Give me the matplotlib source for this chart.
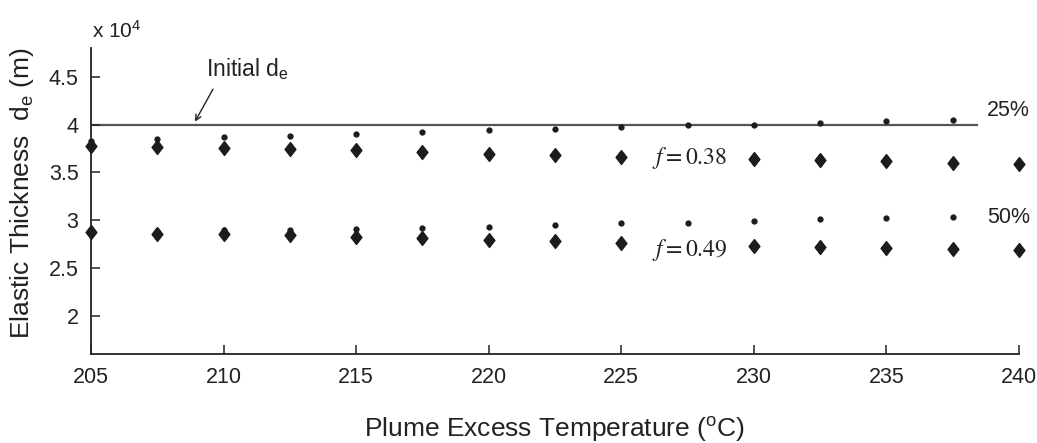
import numpy as np
import matplotlib
matplotlib.use('Agg')
from matplotlib import pyplot as plt
from matplotlib.ticker import FuncFormatter

plt.rcParams['font.family'] = ['Liberation Sans', 'DejaVu Sans']
plt.rcParams['mathtext.fontset'] = 'stix'

# plume excess temperature (C)
temp = [205, 207.5, 210, 212.5, 215, 217.5, 220, 222.5, 225, 227.5,
        230, 232.5, 235, 237.5, 240]

# elastic thickness in units of 1e4 m
# 25% series: f = 0.38 (diamonds) and small dots
de25_f = [3.78, 3.765, 3.75, 3.74, 3.73, 3.71, 3.695, 3.685, 3.66, np.nan,
          3.635, 3.625, 3.615, 3.60, 3.59]
de25_dot = [3.83, 3.85, 3.868, 3.885, 3.90, 3.92, 3.94, 3.95, 3.97, 3.99,
            4.00, 4.02, 4.04, 4.05, np.nan]
# 50% series: f = 0.49
de50_f = [2.878, 2.86, 2.85, 2.844, 2.826, 2.81, 2.79, 2.778, 2.765, np.nan,
          2.73, 2.72, 2.705, 2.70, 2.69]
de50_dot = [2.88, 2.885, 2.895, 2.90, 2.906, 2.913, 2.93, 2.948, 2.965, 2.975,
            2.986, 3.007, 3.024, 3.035, np.nan]

de_initial = 4.0
init_range = [205, 238.4]

fig = plt.figure(figsize=(10.37, 4.43), dpi=100)
ax = fig.add_axes([0.0878, 0.2009, 0.8948, 0.6907])

diamond = [(0, 1), (0.78, 0), (0, -1), (-0.78, 0), (0, 1)]
ink = '#1c1c1c'
txt = '#222222'

ax.plot(init_range, [de_initial, de_initial], color='#555555', lw=1.6, zorder=1)
ax.plot(temp, de25_dot, 'o', color=ink, ms=3.5, zorder=2, clip_on=False)
ax.plot(temp, de50_dot, 'o', color=ink, ms=3.5, zorder=2, clip_on=False)
ax.plot(temp, de25_f, ls='none', marker=diamond, color=ink, ms=10, zorder=3, clip_on=False)
ax.plot(temp, de50_f, ls='none', marker=diamond, color=ink, ms=10, zorder=3, clip_on=False)

ax.set_xlim(205, 240)
ax.set_ylim(1.6, 4.8)
ax.set_xticks(np.arange(205, 241, 5))
ax.set_yticks([2, 2.5, 3, 3.5, 4, 4.5])
ax.yaxis.set_major_formatter(FuncFormatter(lambda v, p: '%g' % v))

for s in ['top', 'right']:
    ax.spines[s].set_visible(False)
for s in ['left', 'bottom']:
    ax.spines[s].set_linewidth(1.3)
    ax.spines[s].set_color(txt)
ax.tick_params(direction='in', length=6.5, width=1.1, labelsize=15.5, colors=txt, pad=9)

ax.set_xlabel('Plume Excess Temperature ($\\mathregular{^{o}}$C)', fontsize=19, color=txt)
ax.xaxis.set_label_coords(0.5, -0.198)
ax.set_ylabel('Elastic Thickness  d$\\mathregular{_e}$ (m)', fontsize=19, color=txt)
ax.yaxis.set_label_coords(-0.059, 0.526)

ax.text(205.05, 4.86, 'x 10$\\mathregular{^4}$', fontsize=15, color=txt,
        ha='left', va='bottom')

ax.text(209.35, 4.58, 'Initial d$\\mathregular{_e}$', fontsize=16.5, color=txt,
        ha='left', va='center')
ax.annotate('', xy=(208.92, 4.03), xytext=(209.6, 4.37),
            arrowprops=dict(arrowstyle='->', color=txt, lw=1.0, shrinkA=0, shrinkB=0))

ax.text(238.8, 4.15, '25%', fontsize=15.5, color=txt, va='center', ha='left')
ax.text(238.8, 3.03, '50%', fontsize=15.5, color=txt, va='center', ha='left')
ax.text(226.15, 3.645, '$f = 0.38$', fontsize=17, color=txt, va='center', ha='left')
ax.text(226.15, 2.69, '$f = 0.49$', fontsize=17, color=txt, va='center', ha='left')

plt.savefig('out.png', dpi=100)
